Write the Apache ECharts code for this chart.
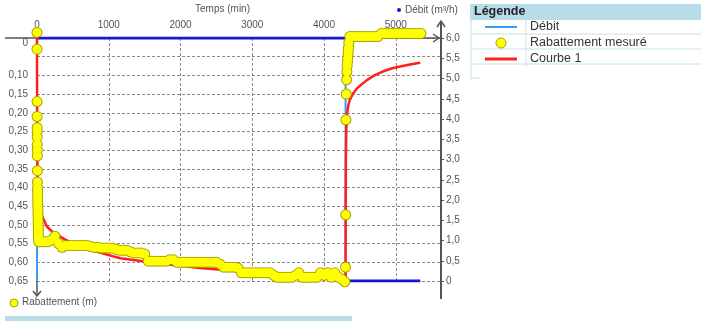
<!DOCTYPE html>
<html>
<head>
<meta charset="utf-8">
<script src="https://cdn.jsdelivr.net/npm/echarts@6/dist/echarts.min.js"></script>
<style>
  html, body { margin: 0; padding: 0; background: #fff; }
  #essai { width: 701px; height: 321px; }
</style>
</head>
<body>
<div id="essai"></div>
<script>
// temps en minutes
const debitTemps = [0, 0, 4300, 4300, 5340];
const debitValeurs = [0, 6, 6, 0, 0]; // m3/h

// rabattement mesure (m)
const mesureTemps = [
  0, 0.5, 1, 1.5, 2, 2.5, 3, 3.5, 4, 4.5, 5, 6,
  7, 8, 9, 10, 11, 12, 13, 14, 15, 16, 17, 18, 19, 20, 22, 25,
  50, 100, 150, 200, 250, 300, 350, 400, 450, 500, 550, 600, 650, 700,
  750, 800, 850, 900, 950, 1000, 1050, 1100, 1150, 1200, 1250, 1300, 1350,
  1400, 1450, 1500, 1550, 1600, 1650, 1700, 1750, 1800, 1850, 1900, 1950,
  2000, 2050, 2100, 2150, 2200, 2250, 2300, 2350, 2400, 2450, 2500, 2550,
  2600, 2650, 2700, 2750, 2800, 2850, 2900, 2950, 3000, 3050, 3100, 3150,
  3200, 3250, 3300, 3350, 3400, 3450, 3500, 3550, 3600, 3650, 3700, 3750,
  3800, 3850, 3900, 3950, 4000, 4050, 4100, 4150, 4200, 4250, 4290,
  4300, 4302, 4305, 4310, 4314, 4318, 4322, 4326, 4330, 4334, 4338, 4342,
  4346, 4360, 4400, 4450, 4500, 4550, 4600, 4650, 4700, 4750,
  4800, 4850, 4900, 4950, 5000, 5050, 5100, 5150, 5200, 5250, 5300, 5350
];
const mesureRabattement = [
  -0.015, 0.03, 0.17, 0.21, 0.24, 0.25, 0.265, 0.285, 0.30, 0.315, 0.355, 0.385,
  0.40, 0.41, 0.42, 0.43, 0.44, 0.45, 0.46, 0.47, 0.48, 0.49, 0.50, 0.51, 0.52, 0.53, 0.54, 0.545,
  0.545, 0.545, 0.545, 0.54, 0.53, 0.55, 0.56, 0.555, 0.555, 0.555, 0.555, 0.555, 0.555, 0.555,
  0.558, 0.56, 0.56, 0.562, 0.562, 0.562, 0.562, 0.565, 0.568, 0.568, 0.568, 0.572, 0.575,
  0.575, 0.575, 0.578, 0.597, 0.597, 0.597, 0.597, 0.597, 0.597, 0.593, 0.593, 0.60,
  0.60, 0.60, 0.60, 0.60, 0.60, 0.60, 0.60, 0.60, 0.60, 0.60, 0.60, 0.605,
  0.613, 0.613, 0.613, 0.613, 0.615, 0.628, 0.628, 0.628, 0.628, 0.628, 0.628, 0.628,
  0.628, 0.628, 0.635, 0.64, 0.64, 0.64, 0.64, 0.64, 0.635, 0.628, 0.64, 0.64,
  0.64, 0.64, 0.64, 0.628, 0.635, 0.628, 0.64, 0.628, 0.64, 0.645, 0.652,
  0.613, 0.473, 0.219, 0.15, 0.112, 0.09, 0.075, 0.065, 0.055, 0.045, 0.035, 0.025,
  0.012, -0.004, -0.004, -0.004, -0.004, -0.004, -0.004, -0.004, -0.004, -0.004,
  -0.012, -0.012, -0.012, -0.012, -0.012, -0.012, -0.012, -0.012, -0.012, -0.012, -0.012, -0.012
];

// courbe 1 (m)
const courbeTemps = [
  0, 1, 2, 5, 10, 20, 40, 80, 140, 225, 400, 600, 800, 1160, 1500, 1900,
  2270, 2700, 3000, 3500, 4000, 4300, 4301, 4302, 4305, 4310, 4320, 4338,
  4360, 4400, 4463, 4530, 4603, 4700, 4826, 4950, 5063, 5200, 5314, 5340
];
const courbeRabattement = [
  0, 0.12, 0.2, 0.33, 0.40, 0.44, 0.46, 0.48, 0.505, 0.52, 0.54, 0.559, 0.57, 0.589, 0.598, 0.607,
  0.615, 0.622, 0.627, 0.633, 0.638, 0.641, 0.52, 0.44, 0.32, 0.245, 0.205, 0.180,
  0.165, 0.150, 0.134, 0.123, 0.112, 0.100, 0.089, 0.081, 0.076, 0.071, 0.067, 0.066
];

const tempsTicks = [0, 1000, 2000, 3000, 4000, 5000];

const police = 'Liberation Sans, Arial, sans-serif';
const gris = '#555';

function paires(xs, ys) {
  const out = [];
  for (let i = 0; i < xs.length; i++) out.push([xs[i], ys[i]]);
  return out;
}

// paliers horizontaux du debit (bleu fonce), coupes aux changements
const debitPaliers = [];
for (let i = 0; i < debitTemps.length - 1; i++) {
  if (debitValeurs[i] === debitValeurs[i + 1]) {
    debitPaliers.push([debitTemps[i], debitValeurs[i]]);
    debitPaliers.push([debitTemps[i + 1], debitValeurs[i + 1]]);
    debitPaliers.push(['-', '-']);
  }
}

const myChart = echarts.init(document.getElementById('essai'));

const option = {
  animation: false,
  textStyle: { fontFamily: police },
  grid: { left: 37, top: 38, right: 260, bottom: 40 },
  legend: {
    orient: 'vertical',
    left: 480,
    top: 14,
    itemWidth: 32,
    itemHeight: 10,
    itemGap: 0,
    selectedMode: false,
    textStyle: { fontSize: 12.5, color: '#333', lineHeight: 16, padding: [0, 0, 0, 8] },
    data: [
      { name: 'Débit', icon: 'path://M0,4H32V6H0Z' },
      { name: 'Rabattement mesuré', icon: 'circle', itemStyle: { color: '#ffff00', borderColor: '#a8a000', borderWidth: 1 } },
      { name: 'Courbe 1', icon: 'path://M0,3.5H32V6.5H0Z' },
    ],
  },
  xAxis: {
    type: 'value',
    position: 'top',
    min: 0,
    max: 5630,
    interval: 1000,
    axisLine: { show: true, onZero: false, lineStyle: { color: gris, width: 1.5 } },
    axisTick: { show: false },
    axisLabel: {
      color: gris,
      fontSize: 10,
      margin: 8,
      showMaxLabel: false,
      formatter: (v) => (tempsTicks.indexOf(v) >= 0 ? String(v) : ''),
    },
    splitLine: { show: true, lineStyle: { color: '#8a8a8a', type: [3, 2], width: 1 } },
  },
  yAxis: [
    {
      type: 'value',
      position: 'left',
      inverse: true,
      min: 0,
      max: 0.65,
      interval: 0.05,
      axisLine: { show: true, onZero: false, lineStyle: { color: gris, width: 1.5 } },
      axisTick: { show: false },
      axisLabel: {
        color: gris,
        fontSize: 10,
        margin: 9,
        rich: { zero: { padding: [10, 0, 0, 0], fontSize: 10, color: gris } },
        formatter: (v) => {
          if (Math.abs(v) < 1e-9) return '{zero|0}';
          if (Math.abs(v - 0.05) < 1e-9) return '';
          return v.toFixed(2).replace('.', ',');
        },
      },
      splitLine: { show: true, lineStyle: { color: '#8a8a8a', type: [3, 2], width: 1 } },
    },
    {
      type: 'value',
      position: 'right',
      min: 0,
      max: 6,
      interval: 0.5,
      axisLine: { show: true, onZero: false, lineStyle: { color: gris, width: 2 } },
      axisTick: { show: true, length: 3, lineStyle: { color: gris } },
      axisLabel: {
        color: gris,
        fontSize: 10,
        margin: 5,
        formatter: (v) => (v === 0 ? '0' : v.toFixed(1).replace('.', ',')),
      },
      splitLine: { show: false },
    },
  ],
  series: [
    {
      name: 'Débit',
      type: 'line',
      yAxisIndex: 1,
      symbol: 'none',
      lineStyle: { color: '#3d9df5', width: 2 },
      itemStyle: { color: '#3d9df5' },
      data: paires(debitTemps, debitValeurs),
      z: 2,
    },
    {
      name: 'Débit palier',
      type: 'line',
      yAxisIndex: 1,
      symbol: 'none',
      connectNulls: false,
      lineStyle: { color: '#1616d4', width: 3 },
      data: debitPaliers,
      z: 2,
    },
    {
      name: 'Courbe 1',
      type: 'line',
      yAxisIndex: 0,
      symbol: 'none',
      lineStyle: { color: '#ff1f1f', width: 2.5 },
      itemStyle: { color: '#ff1f1f' },
      data: paires(courbeTemps, courbeRabattement),
      z: 3,
    },
    {
      name: 'Rabattement contour',
      type: 'scatter',
      yAxisIndex: 0,
      symbolSize: 11,
      clip: false,
      itemStyle: { color: '#aaa200', opacity: 1 },
      data: paires(mesureTemps, mesureRabattement),
      z: 4,
    },
    {
      name: 'Rabattement mesuré',
      type: 'scatter',
      yAxisIndex: 0,
      symbolSize: 9,
      clip: false,
      itemStyle: { color: '#ffff00', opacity: 1 },
      data: paires(mesureTemps, mesureRabattement),
      z: 5,
    },
  ],
  graphic: [
    // prolongements des axes et fleches
    { type: 'line', shape: { x1: 5, y1: 38, x2: 37, y2: 38 }, style: { stroke: gris, lineWidth: 1.5 } },
    { type: 'polyline', shape: { points: [[433, 34], [439, 38], [433, 42]] }, style: { stroke: gris, lineWidth: 1.5, fill: null } },
    { type: 'line', shape: { x1: 37, y1: 281, x2: 37, y2: 296 }, style: { stroke: gris, lineWidth: 1.5 } },
    { type: 'polyline', shape: { points: [[33, 291], [37, 296], [41, 291]] }, style: { stroke: gris, lineWidth: 1.5, fill: null } },
    { type: 'line', shape: { x1: 441, y1: 22, x2: 441, y2: 38 }, style: { stroke: gris, lineWidth: 2 } },
    { type: 'line', shape: { x1: 441, y1: 281, x2: 441, y2: 299 }, style: { stroke: gris, lineWidth: 2 } },
    { type: 'polyline', shape: { points: [[437, 27], [441, 21], [445, 27]] }, style: { stroke: gris, lineWidth: 1.5, fill: null } },
    // noms des axes
    { type: 'text', left: 195, top: 4, style: { text: 'Temps (min)', fill: gris, font: '10px ' + police } },
    { type: 'circle', shape: { cx: 399, cy: 10, r: 2 }, style: { fill: '#1616d4' } },
    { type: 'text', left: 405, top: 5, style: { text: 'Débit (m³/h)', fill: gris, font: '10px ' + police } },
    { type: 'circle', shape: { cx: 14, cy: 303, r: 4 }, style: { fill: '#ffff00', stroke: '#a8a000', lineWidth: 1 } },
    { type: 'text', left: 22, top: 297, style: { text: 'Rabattement (m)', fill: gris, font: '10px ' + police } },
    // tableau de legende
    { type: 'rect', shape: { x: 470, y: 4, width: 231, height: 16 }, style: { fill: '#b7dde8' }, z: -1 },
    { type: 'text', left: 474, top: 5, style: { text: 'Légende', fill: '#222', font: 'bold 12.5px ' + police } },
    { type: 'line', shape: { x1: 471, y1: 4, x2: 471, y2: 80 }, style: { stroke: '#c3e2eb', lineWidth: 1 } },
    { type: 'line', shape: { x1: 526, y1: 20, x2: 526, y2: 66 }, style: { stroke: '#c3e2eb', lineWidth: 1 } },
    { type: 'line', shape: { x1: 471, y1: 34, x2: 701, y2: 34 }, style: { stroke: '#c3e2eb', lineWidth: 1 } },
    { type: 'line', shape: { x1: 471, y1: 49, x2: 701, y2: 49 }, style: { stroke: '#c3e2eb', lineWidth: 1 } },
    { type: 'line', shape: { x1: 471, y1: 64, x2: 701, y2: 64 }, style: { stroke: '#c3e2eb', lineWidth: 1 } },
    { type: 'line', shape: { x1: 471, y1: 78, x2: 480, y2: 78 }, style: { stroke: '#c3e2eb', lineWidth: 1 } },
    // bandeau du bas
    { type: 'rect', shape: { x: 5, y: 316, width: 347, height: 5 }, style: { fill: '#b7dde8' } },
  ],
};

myChart.setOption(option);
</script>
</body>
</html>
